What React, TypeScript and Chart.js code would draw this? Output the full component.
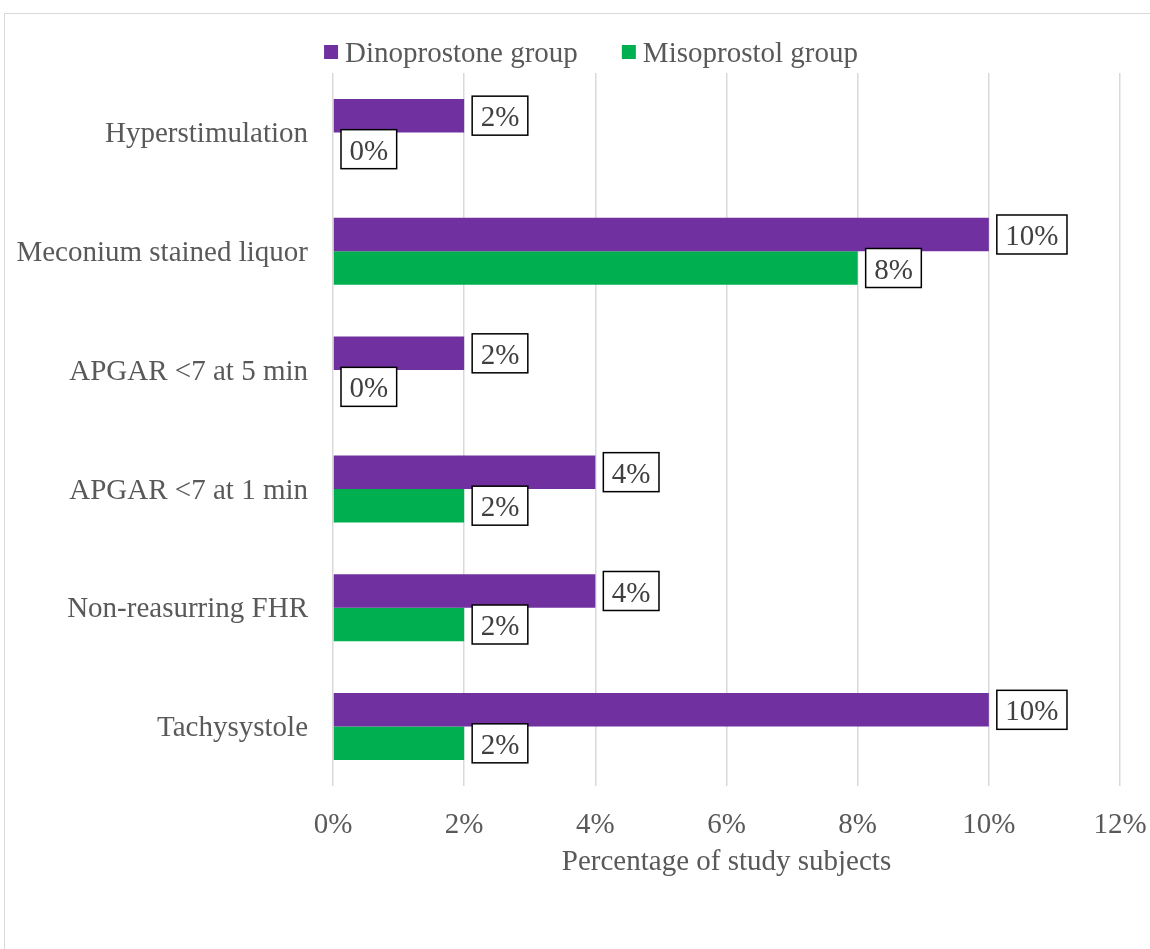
import React, { useEffect, useRef } from "react";
import { Chart, registerables } from "chart.js";

Chart.register(...registerables);

const categories = [
  "Hyperstimulation",
  "Meconium stained liquor",
  "APGAR <7 at 5 min",
  "APGAR <7 at 1 min",
  "Non-reasurring FHR",
  "Tachysystole",
];
const dinoprostone = [2, 10, 2, 4, 4, 10];
const misoprostol = [0, 8, 0, 2, 2, 2];
const xTickValues = [0, 2, 4, 6, 8, 10, 12];
const seriesNames = ["Dinoprostone group", "Misoprostol group"];
const seriesColors = ["#7030A0", "#00B050"];
const axisTitle = "Percentage of study subjects";

const FONT = "'Liberation Serif', 'Times New Roman', serif";
const TEXT = "#595959";
const CANVAS_W = 1172;
const CANVAS_H = 935;

const legendPlugin = {
  id: "customLegend",
  afterDraw(chart: any) {
    const ctx = chart.ctx;
    ctx.save();
    ctx.font = `29px ${FONT}`;
    const box = 14;
    const gap = 7;
    const spacing = 44;
    const widths = seriesNames.map((n) => ctx.measureText(n).width);
    const total =
      widths.reduce((a, w) => a + box + gap + w, 0) + spacing * (seriesNames.length - 1);
    let x = chart.width / 2 - total / 2;
    seriesNames.forEach((name, i) => {
      ctx.fillStyle = seriesColors[i];
      ctx.fillRect(x, 31, box, box);
      ctx.fillStyle = TEXT;
      ctx.textBaseline = "alphabetic";
      ctx.textAlign = "left";
      ctx.fillText(name, x + box + gap, 48);
      x += box + gap + widths[i] + spacing;
    });
    ctx.restore();
  },
};

const labelPlugin = {
  id: "boxLabels",
  afterDatasetsDraw(chart: any) {
    const ctx = chart.ctx;
    ctx.save();
    ctx.font = `29px ${FONT}`;
    chart.data.datasets.forEach((ds: any, di: number) => {
      const meta = chart.getDatasetMeta(di);
      meta.data.forEach((bar: any, i: number) => {
        const text = `${ds.data[i]}%`;
        const tw = ctx.measureText(text).width;
        const w = tw + 17;
        const h = 39;
        const left = bar.x + 8;
        const top = bar.y - h / 2;
        ctx.fillStyle = "#ffffff";
        ctx.fillRect(left, top, w, h);
        ctx.lineWidth = 1.5;
        ctx.strokeStyle = "#000000";
        ctx.strokeRect(left, top, w, h);
        ctx.fillStyle = "#404040";
        ctx.textAlign = "center";
        ctx.textBaseline = "middle";
        ctx.fillText(text, left + w / 2, bar.y + 3);
      });
    });
    ctx.restore();
  },
};

export default function App() {
  const ref = useRef<HTMLCanvasElement | null>(null);

  useEffect(() => {
    if (!ref.current) return;
    const chart = new Chart(ref.current, {
      type: "bar",
      data: {
        labels: categories,
        datasets: [
          {
            label: seriesNames[0],
            data: dinoprostone,
            backgroundColor: seriesColors[0],
            categoryPercentage: 0.564,
            barPercentage: 1,
          },
          {
            label: seriesNames[1],
            data: misoprostol,
            backgroundColor: seriesColors[1],
            categoryPercentage: 0.564,
            barPercentage: 1,
          },
        ],
      },
      options: {
        indexAxis: "y",
        animation: false,
        responsive: false,
        devicePixelRatio: 1,
        layout: { padding: { top: 59, right: 57, bottom: 65, left: 0 } },
        plugins: {
          legend: { display: false },
          tooltip: { enabled: false },
        },
        scales: {
          x: {
            min: 0,
            max: 12,
            afterFit: (scale: any) => {
              scale.height = 98;
            },
            afterBuildTicks: (scale: any) => {
              scale.ticks = xTickValues.map((v) => ({ value: v }));
            },
            ticks: {
              padding: 22,
              color: TEXT,
              font: { family: FONT, size: 29 },
              callback: (v: any) => `${v}%`,
            },
            grid: { color: "#d9d9d9", lineWidth: 1.5, drawTicks: false },
            border: { display: false },
            title: {
              display: true,
              text: axisTitle,
              color: TEXT,
              font: { family: FONT, size: 29 },
              padding: { top: 0, bottom: 4 },
            },
          },
          y: {
            afterFit: (scale: any) => {
              scale.width = 328;
            },
            ticks: {
              padding: 25,
              labelOffset: 2,
              color: TEXT,
              font: { family: FONT, size: 29 },
            },
            grid: { display: false, drawTicks: false },
            border: { display: false },
          },
        },
      },
      plugins: [labelPlugin, legendPlugin],
    } as any);
    return () => chart.destroy();
  }, []);

  return (
    <div
      style={{
        position: "fixed",
        left: 0,
        top: 0,
        width: 1150,
        height: 949,
        overflow: "hidden",
        background: "#ffffff",
      }}
    >
      <div
        style={{
          position: "absolute",
          left: 4,
          top: 13,
          width: CANVAS_W,
          height: CANVAS_H,
          border: "1px solid #d9d9d9",
          background: "#ffffff",
        }}
      >
        <canvas
          ref={ref}
          width={CANVAS_W}
          height={CANVAS_H}
          style={{ display: "block", width: CANVAS_W, height: CANVAS_H }}
        />
      </div>
    </div>
  );
}
